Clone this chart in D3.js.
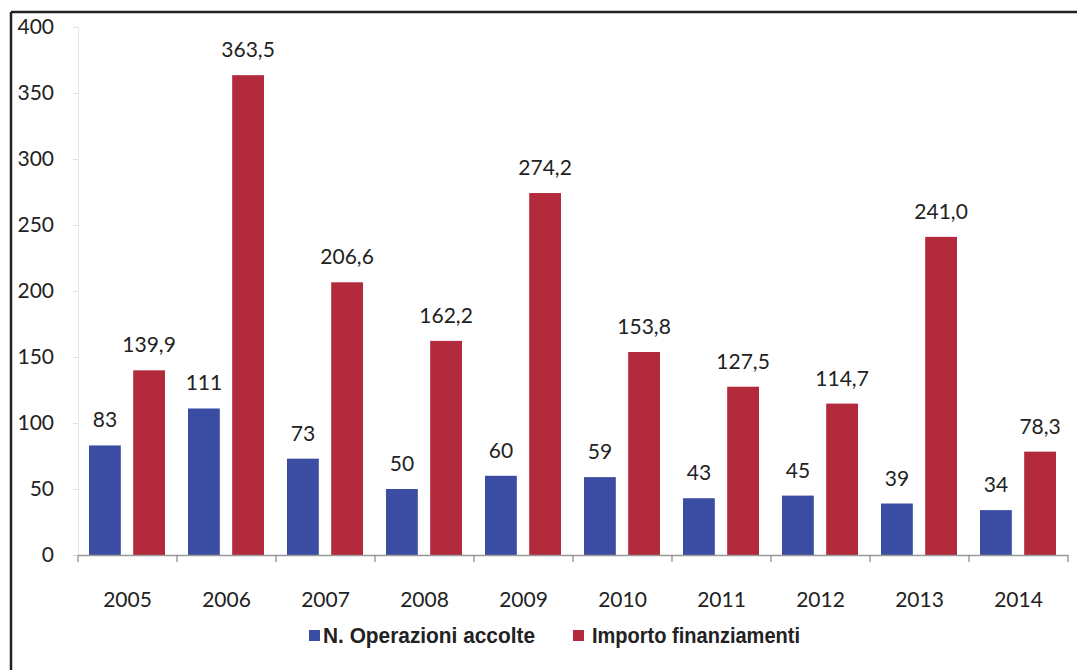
<!DOCTYPE html>
<html>
<head>
<meta charset="utf-8">
<script src="https://cdn.jsdelivr.net/npm/d3@7"></script>
<style>
  body { margin: 0; background: #fff; }
  svg text { font-family: Lato, "Open Sans", sans-serif; fill: #222; }
</style>
</head>
<body>
<script>
// chart data
var years = ["2005","2006","2007","2008","2009","2010","2011","2012","2013","2014"];
var operazioni = [83, 111, 73, 50, 60, 59, 43, 45, 39, 34];
var importo = [139.9, 363.5, 206.6, 162.2, 274.2, 153.8, 127.5, 114.7, 241.0, 78.3];
var yTicks = [0, 50, 100, 150, 200, 250, 300, 350, 400];
var seriesNames = ["N. Operazioni accolte", "Importo finanziamenti"];
var colors = ["#3b4ca3", "#b22a3b"];

var W = 1077, H = 670;
var svg = d3.select("body").append("svg").attr("width", W).attr("height", H);

// frame (only top and left edges are visible)
svg.append("line").attr("x1", 11).attr("x2", W).attr("y1", 12).attr("y2", 12)
  .attr("stroke", "#222").attr("stroke-width", 2.5);
svg.append("line").attr("x1", 11).attr("x2", 11).attr("y1", 12).attr("y2", H)
  .attr("stroke", "#222").attr("stroke-width", 2.5);

var x = d3.scaleBand().domain(years).range([78, 1068]);
var y = d3.scaleLinear().domain([0, 400]).range([555, 27]);

// y axis
var yAxis = svg.append("g").attr("transform", "translate(78,0)")
  .call(d3.axisLeft(y).tickValues(yTicks).tickSize(5).tickPadding(19));
yAxis.select(".domain").attr("stroke", "#e4e4e4");
yAxis.selectAll(".tick line").attr("stroke", "#ddd");
yAxis.selectAll("text").style("font-size", "21px").attr("fill", "#222");

// bars + value labels
var inner = d3.scaleBand().domain([0, 1]).range([11, x.bandwidth() - 12]).paddingInner(0.28);
var series = [operazioni, importo];
var fmt = [function(v){ return String(v); }, function(v){ return v.toFixed(1).replace(".", ","); }];

series.forEach(function(vals, si){
  var g = svg.append("g");
  g.selectAll("rect").data(vals).enter().append("rect")
    .attr("x", function(d, i){ return x(years[i]) + inner(si); })
    .attr("width", inner.bandwidth())
    .attr("y", function(d){ return y(d); })
    .attr("height", function(d){ return y(0) - y(d); })
    .attr("fill", colors[si]);
  g.selectAll("text").data(vals).enter().append("text")
    .attr("x", function(d, i){ return x(years[i]) + inner(si) + inner.bandwidth() / 2; })
    .attr("y", function(d){ return y(d) - 18; })
    .attr("text-anchor", "middle")
    .style("font-size", "21px")
    .text(fmt[si]);
});

// x axis
var xAxis = svg.append("g").attr("transform", "translate(0,555)")
  .call(d3.axisBottom(x).tickSize(0).tickPadding(37));
xAxis.select(".domain").attr("stroke", "#999").attr("stroke-width", 1.5);
xAxis.selectAll("text").style("font-size", "21px").attr("fill", "#222");
// separators between categories
svg.append("g").selectAll("line").data(years.concat(["end"])).enter().append("line")
  .attr("x1", function(d, i){ return 78 + i * x.bandwidth(); })
  .attr("x2", function(d, i){ return 78 + i * x.bandwidth(); })
  .attr("y1", 555).attr("y2", 562)
  .attr("stroke", "#888").attr("stroke-width", 1.2);

// legend
var legendX = [309, 573];
var textX = [323, 592];
var textW = [212, 208];
var legend = svg.append("g");
seriesNames.forEach(function(name, i){
  legend.append("rect").attr("x", legendX[i]).attr("y", 630).attr("width", 11).attr("height", 11)
    .attr("fill", colors[i]);
  legend.append("text").attr("x", textX[i]).attr("y", 643)
    .style("font-size", "22px").style("font-family", "'Liberation Sans Narrow', 'Liberation Sans', sans-serif")
    .style("font-weight", "bold")
    .attr("textLength", textW[i]).attr("lengthAdjust", "spacingAndGlyphs")
    .text(name);
});
</script>
</body>
</html>
